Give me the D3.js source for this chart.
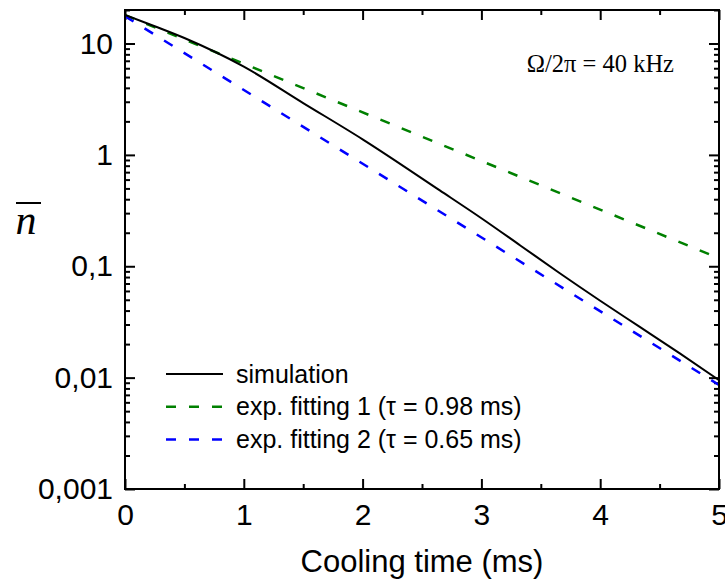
<!DOCTYPE html>
<html lang="en">
    <head>
        <meta charset="UTF-8" />
        <title>Cooling time</title>
        <script src="https://d3js.org/d3.v7.min.js"></script>
        <style>
            body {
                margin: 0;
                background: #fff;
            }
            .axis text {
                font-family: "Liberation Sans", Arial, sans-serif;
                fill: #000;
            }
            .axis path {
                display: none;
            }
            .axis line {
                stroke: #000;
                stroke-width: 2px;
            }
        </style>
    </head>

    <body>
        <div id="chart"></div>

        <script>
            const width = 725,
                height = 586;

            // simulation curve
            const simTime = [0, 0.25, 0.5, 1, 1.5, 2, 2.65, 3, 3.33, 3.66, 4, 4.33, 4.67, 5];
            const simN = [18.1, 14.3, 11.2, 6.2, 2.92, 1.38, 0.48, 0.27, 0.153, 0.0865, 0.049, 0.0287, 0.0165, 0.0095];

            // exponential fits are straight lines on the log axis: two end points each
            const fitTime = [0, 5];
            const fit1N = [18, 0.118];
            const fit2N = [17.6, 0.0086];

            const xTicks = [0, 1, 2, 3, 4, 5];
            const yTicks = [10, 1, 0.1, 0.01, 0.001];
            const yTickLabels = ["10", "1", "0,1", "0,01", "0,001"];

            const legendLabels = [
                "simulation",
                "exp. fitting 1 (\u03c4 = 0.98 ms)",
                "exp. fitting 2 (\u03c4 = 0.65 ms)",
            ];

            const margin = { top: 10, right: 6, bottom: 97, left: 125 };
            const plotW = width - margin.left - margin.right;
            const plotH = height - margin.top - margin.bottom;

            const svg = d3
                .select("#chart")
                .append("svg")
                .attr("width", width)
                .attr("height", height);

            const x = d3.scaleLinear().domain([0, 5]).range([0, plotW]);
            const y = d3.scaleLog().domain([0.001, 20]).range([plotH, 0]);

            const g = svg
                .append("g")
                .attr("transform", `translate(${margin.left},${margin.top})`);

            // minor ticks
            const yMinor = y.ticks().filter((v) => !yTicks.includes(v));
            const xMinor = [0.5, 1.5, 2.5, 3.5, 4.5];

            g.append("g")
                .attr("class", "axis")
                .call(d3.axisLeft(y).tickValues(yMinor).tickSize(-5).tickFormat(""));
            g.append("g")
                .attr("class", "axis")
                .attr("transform", `translate(${plotW},0)`)
                .call(d3.axisRight(y).tickValues(yMinor).tickSize(-5).tickFormat(""));
            g.append("g")
                .attr("class", "axis")
                .attr("transform", `translate(0,${plotH})`)
                .call(d3.axisBottom(x).tickValues(xMinor).tickSize(-5).tickFormat(""));
            g.append("g")
                .attr("class", "axis")
                .call(d3.axisTop(x).tickValues(xMinor).tickSize(-5).tickFormat(""));

            // major ticks
            g.append("g")
                .attr("class", "axis")
                .call(
                    d3
                        .axisLeft(y)
                        .tickValues(yTicks)
                        .tickSize(-10)
                        .tickPadding(12)
                        .tickFormat((d, i) => yTickLabels[i]),
                )
                .selectAll("text")
                .style("font-size", "30px");
            g.append("g")
                .attr("class", "axis")
                .attr("transform", `translate(${plotW},0)`)
                .call(d3.axisRight(y).tickValues(yTicks).tickSize(-10).tickFormat(""));
            g.append("g")
                .attr("class", "axis")
                .attr("transform", `translate(0,${plotH})`)
                .call(
                    d3
                        .axisBottom(x)
                        .tickValues(xTicks)
                        .tickSize(-10)
                        .tickPadding(15)
                        .tickFormat(d3.format("d")),
                )
                .selectAll("text")
                .style("font-size", "30px");
            g.append("g")
                .attr("class", "axis")
                .call(d3.axisTop(x).tickValues(xTicks).tickSize(-10).tickFormat(""));

            // curves
            g.append("clipPath")
                .attr("id", "clip")
                .append("rect")
                .attr("width", plotW)
                .attr("height", plotH);

            const line = d3
                .line()
                .x((d) => x(d[0]))
                .y((d) => y(d[1]))
                .curve(d3.curveMonotoneX);

            const series = [
                { t: fitTime, n: fit1N, color: "#008000", dash: "10,13", w: 2.5 },
                { t: fitTime, n: fit2N, color: "#0000ff", dash: "10,13", w: 2.5 },
                { t: simTime, n: simN, color: "#000", dash: null, w: 2 },
            ];

            series.forEach((s) => {
                g.append("path")
                    .datum(d3.zip(s.t, s.n))
                    .attr("clip-path", "url(#clip)")
                    .attr("fill", "none")
                    .attr("stroke", s.color)
                    .attr("stroke-width", s.w)
                    .attr("stroke-dasharray", s.dash)
                    .attr("d", line);
            });

            // frame
            g.append("rect")
                .attr("width", plotW)
                .attr("height", plotH)
                .attr("fill", "none")
                .attr("stroke", "#000")
                .attr("stroke-width", 2);

            // legend
            const legendItems = [
                { color: "#000", dash: null, w: 2 },
                { color: "#008000", dash: "10,13", w: 2.5 },
                { color: "#0000ff", dash: "10,13", w: 2.5 },
            ];
            const legend = svg.append("g").attr("transform", "translate(166,374)");
            legendItems.forEach((it, i) => {
                const row = legend.append("g").attr("transform", `translate(0,${i * 32.7})`);
                row.append("line")
                    .attr("x1", 0)
                    .attr("x2", 57)
                    .attr("stroke", it.color)
                    .attr("stroke-width", it.w)
                    .attr("stroke-dasharray", it.dash);
                row.append("text")
                    .attr("x", 70)
                    .attr("y", 8.5)
                    .style("font-family", '"Liberation Sans", Arial, sans-serif')
                    .style("font-size", "25px")
                    .text(legendLabels[i]);
            });

            // annotation
            svg.append("text")
                .attr("x", 674)
                .attr("y", 72)
                .attr("text-anchor", "end")
                .style("font-family", '"Liberation Serif", "Times New Roman", serif')
                .style("font-size", "24.5px")
                .text("\u03a9/2\u03c0 = 40 kHz");

            // axis titles
            svg.append("text")
                .attr("x", margin.left + plotW / 2)
                .attr("y", 572)
                .attr("text-anchor", "middle")
                .style("font-family", '"Liberation Sans", Arial, sans-serif')
                .style("font-size", "31px")
                .text("Cooling time (ms)");

            const yTitle = svg.append("g").attr("transform", "translate(26,234)");
            yTitle
                .append("text")
                .attr("text-anchor", "middle")
                .style("font-family", '"Liberation Serif", "Times New Roman", serif')
                .style("font-style", "italic")
                .style("font-size", "42px")
                .text("n");
            yTitle
                .append("line")
                .attr("x1", -10)
                .attr("x2", 15)
                .attr("y1", -31)
                .attr("y2", -31)
                .attr("stroke", "#000")
                .attr("stroke-width", 2);
        </script>
    </body>
</html>
